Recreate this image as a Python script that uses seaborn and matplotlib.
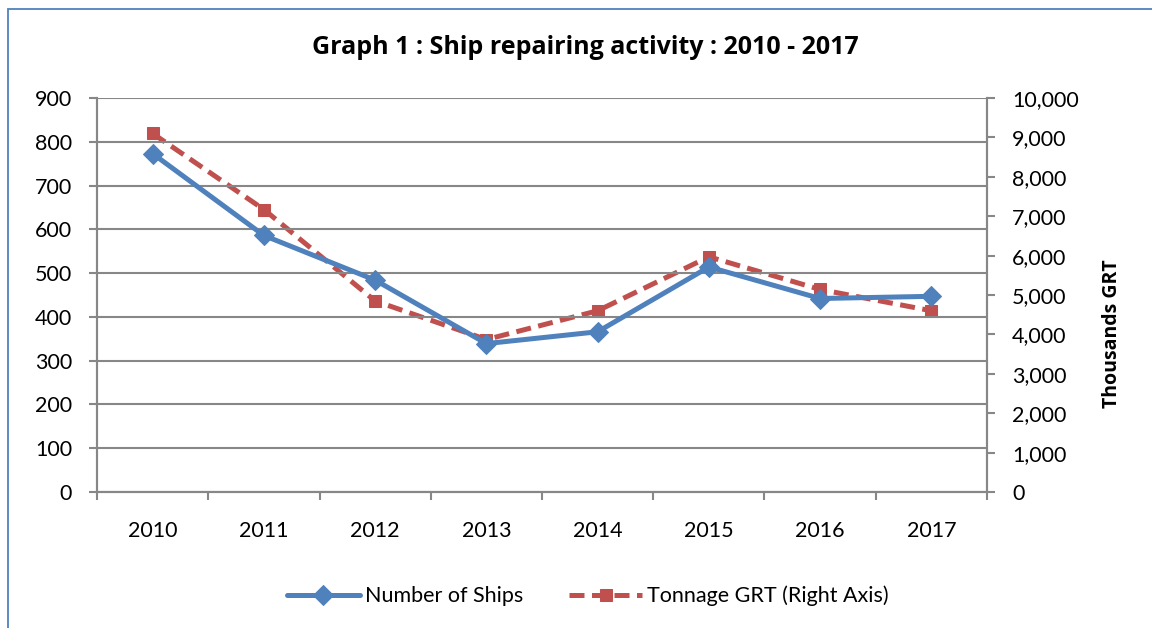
import numpy as np
import pandas as pd
import matplotlib
matplotlib.use("Agg")
import matplotlib.pyplot as plt
from matplotlib.patches import Rectangle
from matplotlib.ticker import FixedLocator, FuncFormatter
import seaborn as sns

# Datos
years = ['2010', '2011', '2012', '2013', '2014', '2015', '2016', '2017']
ships = [773, 586, 484, 339, 366, 514, 442, 447]
tonnage = [9100, 7170, 4850, 3870, 4600, 5970, 5140, 4600]

df = pd.DataFrame({'pos': np.arange(len(years)), 'year': years,
                   'ships': ships, 'tonnage': tonnage})

sns.set_style("white")
plt.rcParams['font.family'] = ['Lato', 'DejaVu Sans']
plt.rcParams['text.color'] = 'black'
plt.rcParams['xtick.labelcolor'] = 'black'
plt.rcParams['ytick.labelcolor'] = 'black'
bold_font = ['Open Sans', 'DejaVu Sans']

blue = '#4F81BD'
red = '#C0504D'
grid_col = '#878787'
fs = 15.5

fig = plt.figure(figsize=(11.52, 6.28), dpi=100)
ax = fig.add_axes([97 / 1152, 1 - 492 / 628, 890 / 1152, 394 / 628])
ax2 = ax.twinx()

# Lineas
sns.lineplot(data=df, x='pos', y='ships', ax=ax, color=blue, lw=3.6,
             marker='D', markersize=10.5, markeredgecolor=blue, zorder=4,
             label='Number of Ships', legend=False)
sns.lineplot(data=df, x='pos', y='tonnage', ax=ax2, color=red, lw=3.6,
             linestyle=(0, (3, 1.5)), marker='s', markersize=9,
             markeredgecolor=red, zorder=3,
             label='Tonnage GRT (Right Axis)', legend=False)

ax.set_zorder(ax2.get_zorder() + 1)
ax.patch.set_visible(False)

# Ejes
ax.set_xlim(-0.5, len(years) - 0.5)
ax.set_ylim(0, 900)
ax2.set_ylim(0, 10000)
ax.set_yticks(np.arange(0, 901, 100))
ax2.set_yticks(np.arange(0, 10001, 1000))
ax2.yaxis.set_major_formatter(FuncFormatter(lambda v, p: f'{int(v):,}'))

ax.xaxis.set_major_locator(FixedLocator(np.arange(-0.5, len(years), 1.0)))
ax.xaxis.set_major_formatter(FuncFormatter(lambda v, p: ''))
ax.xaxis.set_minor_locator(FixedLocator(df['pos']))
ax.set_xticklabels(years, minor=True)
ax.tick_params(axis='x', which='major', direction='out', length=6,
               width=1.5, color=grid_col, bottom=True)
ax.tick_params(axis='x', which='minor', length=0, pad=21, labelsize=fs,
               labelcolor='black')
ax.tick_params(axis='y', direction='out', length=6, width=1.5,
               color=grid_col, left=True, pad=12, labelsize=fs,
               labelcolor='black')
ax2.tick_params(axis='y', direction='out', length=6, width=1.5,
                color=grid_col, right=True, pad=12, labelsize=fs,
                labelcolor='black')

ax.grid(axis='y', color=grid_col, lw=1.5)
ax.grid(axis='x', visible=False)
ax2.grid(False)
ax.set_xlabel('')
ax.set_ylabel('')
ax2.set_xlabel('')
ax2.set_ylabel('')

for a in (ax, ax2):
    for side in ('left', 'bottom', 'right'):
        a.spines[side].set_visible(True)
        a.spines[side].set_color(grid_col)
        a.spines[side].set_linewidth(1.5)
    a.spines['top'].set_visible(False)

fig.text(1112 / 1152, 1 - 334 / 628, 'Thousands GRT', rotation=90,
         ha='center', va='center', fontsize=14, fontweight='bold',
         family=bold_font, color='black')
fig.text(585 / 1152, 1 - 47 / 628, 'Graph 1 : Ship repairing activity : 2010 - 2017',
         ha='center', va='center', fontsize=18, fontweight='bold',
         family=bold_font, color='black')

h1, l1 = ax.get_legend_handles_labels()
h2, l2 = ax2.get_legend_handles_labels()
fig.legend(h1 + h2, l1 + l2, loc='center', bbox_to_anchor=(588 / 1152, 1 - 596 / 628),
           ncol=2, frameon=False, fontsize=fs, handlelength=3.4,
           columnspacing=2.1, handletextpad=0.25, labelcolor='black')

# Borde del area del grafico
fig.add_artist(Rectangle((8 / 1152, -0.2), 1.2, 1.2 - 9 / 628,
                         transform=fig.transFigure, fill=False,
                         edgecolor=blue, lw=1.3))

fig.savefig('out.png', dpi=100)
